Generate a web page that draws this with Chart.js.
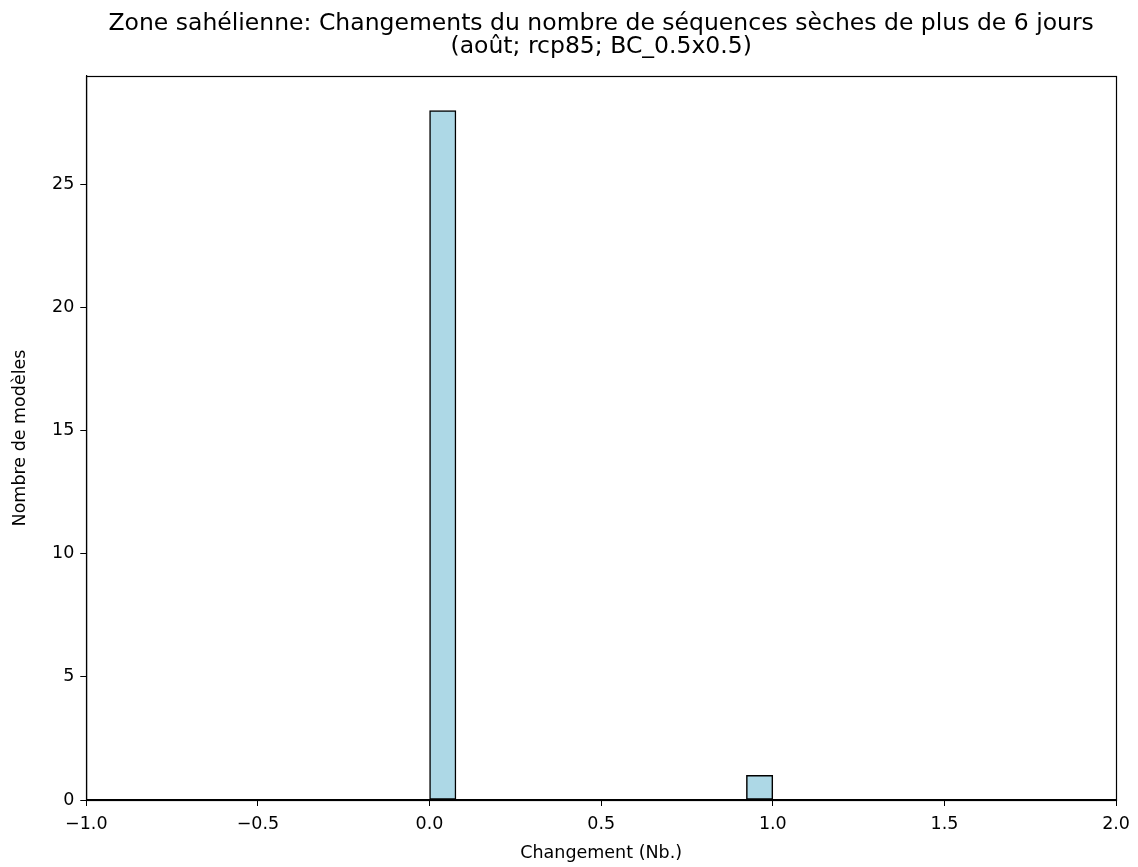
<!DOCTYPE html>
<html>
<head>
<meta charset="utf-8">
<script src="https://cdn.jsdelivr.net/npm/chart.js@4"></script>
<style>
html,body{margin:0;padding:0;background:#fff;}
#wrap{width:1138px;height:867px;}
</style>
</head>
<body>
<div id="wrap"><canvas id="c" width="1138" height="867"></canvas></div>
<script>
// Histogram bins (13 bins between 0 and 1)
const binCenters = [0.0385, 0.1154, 0.1923, 0.2692, 0.3462, 0.4231, 0.5, 0.5769, 0.6538, 0.7308, 0.8077, 0.8846, 0.9615];
const counts = [28, 0, 0, 0, 0, 0, 0, 0, 0, 0, 0, 0, 1];
const xTicks = [-1.0, -0.5, 0.0, 0.5, 1.0, 1.5, 2.0];
const yTicks = [0, 5, 10, 15, 20, 25];
const titleLines = ["Zone sahélienne: Changements du nombre de séquences sèches de plus de 6 jours", "(août; rcp85; BC_0.5x0.5)"];
const xLabel = "Changement (Nb.)";
const yLabel = "Nombre de modèles";

const FONT = "'DejaVu Sans', sans-serif";
Chart.defaults.font.family = FONT;
Chart.defaults.color = '#000';

const frame = {
  id: 'frame',
  afterDatasetsDraw(chart) {
    const {ctx, chartArea: a} = chart;
    ctx.save();
    ctx.strokeStyle = '#000';
    ctx.lineWidth = 1.2;
    ctx.strokeRect(Math.round(a.left) + 0.5, Math.round(a.top) + 0.5, Math.round(a.right - a.left), Math.round(a.bottom - a.top));
    ctx.restore();
  }
};

new Chart(document.getElementById('c'), {
  type: 'bar',
  data: {
    datasets: [{
      data: binCenters.map((x, i) => ({x: x, y: counts[i]})),
      backgroundColor: '#ADD8E6',
      borderColor: '#000',
      borderWidth: 1.5,
      borderSkipped: false,
      barPercentage: 1.0,
      categoryPercentage: 1.0
    }]
  },
  options: {
    responsive: false,
    animation: false,
    layout: {padding: {left: 6, right: 21, top: 2, bottom: 3}},
    plugins: {
      legend: {display: false},
      tooltip: {enabled: false},
      title: {
        display: true,
        fullSize: false,
        text: titleLines,
        color: '#000',
        font: {family: FONT, size: 23.5, weight: 'normal', lineHeight: 1.0},
        padding: {top: 10, bottom: 17}
      }
    },
    scales: {
      x: {
        type: 'linear',
        offset: false,
        min: -1, max: 2,
        afterBuildTicks: s => { s.ticks = xTicks.map(v => ({value: v})); },
        ticks: {
          color: '#000',
          font: {family: FONT, size: 17.5},
          padding: 8,
          maxRotation: 0,
          callback: v => v.toFixed(1).replace('-', '\u2212')
        },
        grid: {offset: false, drawOnChartArea: false, drawTicks: true, tickLength: 6, color: '#000'},
        border: {display: true, color: '#000', width: 1.2},
        title: {display: true, text: xLabel, color: '#000', font: {family: FONT, size: 17.5}, padding: {top: 0, bottom: 0}}
      },
      y: {
        type: 'linear',
        min: 0, max: 29.4,
        afterBuildTicks: s => { s.ticks = yTicks.map(v => ({value: v})); },
        ticks: {color: '#000', font: {family: FONT, size: 17.5}, padding: 6},
        grid: {drawOnChartArea: false, drawTicks: true, tickLength: 6, color: '#000'},
        border: {display: true, color: '#000', width: 1.2},
        title: {display: true, text: yLabel, color: '#000', font: {family: FONT, size: 17.5}, padding: {bottom: 15}}
      }
    }
  },
  plugins: [frame]
});
</script>
</body>
</html>
